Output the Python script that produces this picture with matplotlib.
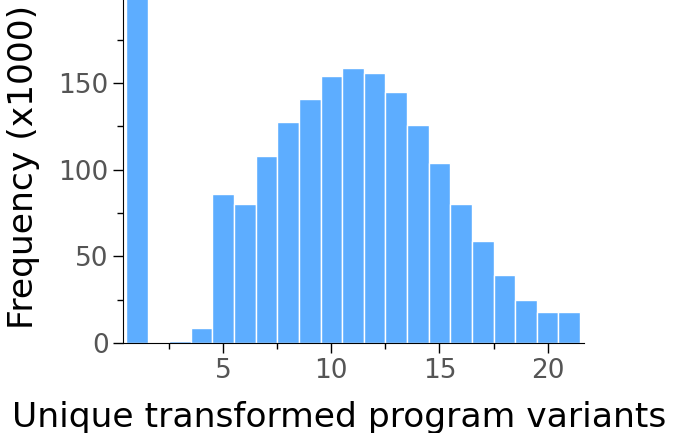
import matplotlib
matplotlib.use("Agg")
import matplotlib.pyplot as plt
from matplotlib.ticker import MultipleLocator

# number of unique variants -> frequency (x1000); first bar runs off the top
variants = list(range(1, 22))
freq = [260, 0, 1.2, 8.8, 86, 80, 108, 127.5, 141, 154, 159, 156, 145,
        126, 104, 80, 59, 39, 25, 18, 18]

fig = plt.figure(figsize=(6.79, 4.33), dpi=100)
ax = fig.add_axes([0.1816, 0.2079, 0.679, 0.7921])

ax.bar(variants, freq, width=1.0, color="#5dadff", edgecolor="white", linewidth=1.0)

ax.set_xlim(0.38, 21.7)
ax.set_ylim(0, 198)
ax.xaxis.set_major_locator(MultipleLocator(5))
ax.xaxis.set_minor_locator(MultipleLocator(2.5))
ax.yaxis.set_major_locator(MultipleLocator(50))
ax.yaxis.set_minor_locator(MultipleLocator(25))

for side in ["top", "right"]:
    ax.spines[side].set_visible(False)
ax.tick_params(which="major", length=7, width=1, labelsize=19, labelcolor="#555555")
ax.tick_params(which="minor", length=4, width=1)

ax.set_xlabel("Unique transformed program variants", fontsize=24.8)
ax.set_ylabel("Frequency (x1000)", fontsize=24.8)
ax.xaxis.set_label_coords(0.469, -0.168)
ax.yaxis.set_label_coords(-0.181, 0.513)

fig.savefig("out.png", dpi=100)
